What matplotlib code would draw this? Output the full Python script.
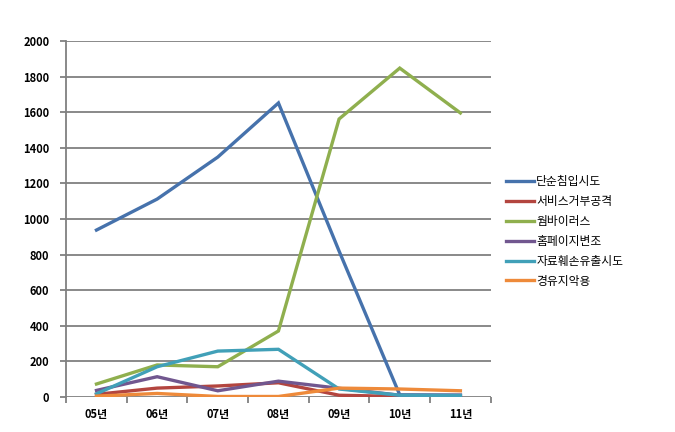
import matplotlib.pyplot as plt
import numpy as np

plt.rcParams['font.family'] = ['Noto Sans CJK KR', 'DejaVu Sans']

years = ['05년', '06년', '07년', '08년', '09년', '10년', '11년']
names = ['단순침입시도', '서비스거부공격', '웜바이러스', '홈페이지변조', '자료훼손유출시도', '경유지악용']
intrusion = [938, 1112, 1348, 1652, 820, 12, 10]
dos = [15, 50, 62, 80, 10, 3, 3]
worm = [73, 180, 170, 371, 1562, 1848, 1596]
deface = [37, 114, 35, 89, 49, 10, 10]
leak = [18, 170, 258, 268, 45, 10, 8]
relay = [5, 20, 3, 3, 50, 45, 35]
colors = ['#4672AC', '#B3453F', '#8FAF4E', '#71578F', '#41A0B8', '#EE8A3A']

fig = plt.figure(figsize=(6.75, 4.32), dpi=100)
ax = fig.add_axes([0.098, 0.081, 0.629, 0.824])

x = np.arange(len(years))
for vals, name, c in zip([intrusion, dos, worm, deface, leak, relay], names, colors):
    ax.plot(x, vals, color=c, lw=2.4, label=name, solid_joinstyle='miter')

ax.set_xlim(-0.5, len(years) - 0.5)
ax.set_ylim(0, 2000)
ax.set_yticks(np.arange(0, 2001, 200))
ax.yaxis.grid(True, color='#808080', lw=1.3)
ax.set_axisbelow(True)
for s in ['top', 'right', 'bottom']:
    ax.spines[s].set_visible(False)
ax.spines['left'].set_color('#808080')
ax.spines['left'].set_linewidth(1.3)

ax.set_xticks(x)
ax.set_xticklabels(years)
ax.set_xticks(np.arange(-0.5, len(years)), minor=True)
ax.tick_params(axis='x', which='major', length=0, pad=8, labelsize=8)
ax.tick_params(axis='x', which='minor', length=4, color='#808080', width=1.3)
ax.tick_params(axis='y', length=4, color='#808080', width=1.3, labelsize=8, pad=8)
for lab in ax.get_xticklabels() + ax.get_yticklabels():
    lab.set_fontweight('bold')

ax.legend(loc='center left', bbox_to_anchor=(1.01, 0.465), frameon=False,
          fontsize=8.5, handlelength=2.4, labelspacing=0.58, handletextpad=0.2)

fig.savefig('out.png', dpi=100)
